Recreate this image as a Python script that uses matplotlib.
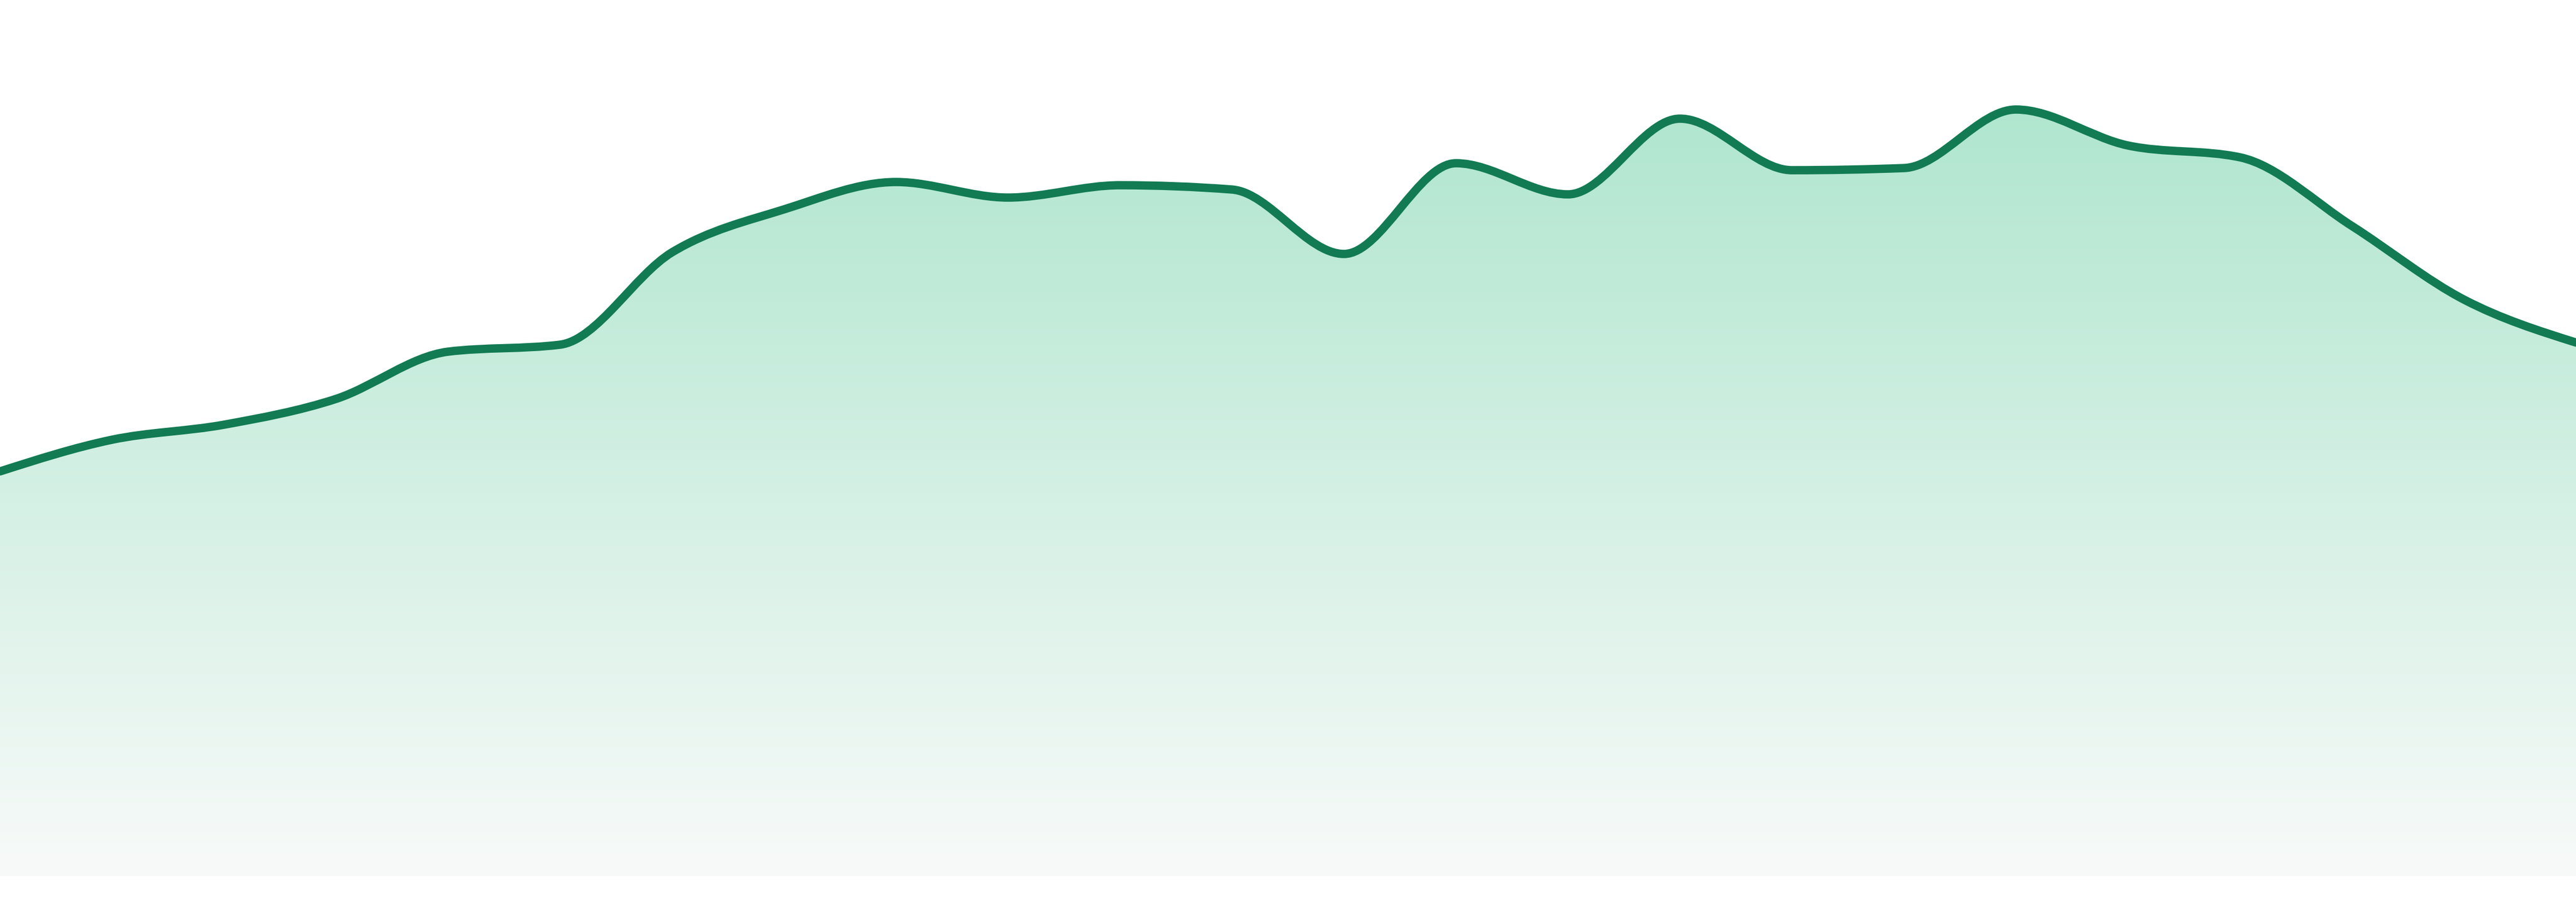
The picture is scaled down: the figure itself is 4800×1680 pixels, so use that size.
import numpy as np
import matplotlib
matplotlib.use("Agg")
import matplotlib.pyplot as plt
from matplotlib.path import Path
from matplotlib.patches import PathPatch

# ---- data (24 evenly spaced observations) ----
periods = list(range(24))
values = [75.4, 81.3, 84.1, 88.9, 97.7, 99.0, 116.2, 124.2, 129.3, 126.4,
          128.7, 127.9, 115.9, 132.8, 127.0, 141.1, 131.5, 131.9, 142.8, 136.1,
          133.9, 121.1, 107.4, 99.4]

LINE_COLOR = "#127b54"
TOP_RGB = np.array([176, 230, 207]) / 255.0
BOT_RGB = np.array([248, 250, 249]) / 255.0


def monotone_tangents(x, y):
    """Tangents as used by d3.curveMonotoneX."""
    x = np.asarray(x, float)
    y = np.asarray(y, float)
    n = len(x)
    t = np.zeros(n)
    for i in range(1, n - 1):
        h0 = x[i] - x[i - 1]
        h1 = x[i + 1] - x[i]
        s0 = (y[i] - y[i - 1]) / h0
        s1 = (y[i + 1] - y[i]) / h1
        p = (s0 * h1 + s1 * h0) / (h0 + h1)
        t[i] = (np.sign(s0) + np.sign(s1)) * min(abs(s0), abs(s1), 0.5 * abs(p))
    h = x[1] - x[0]
    t[0] = (3 * (y[1] - y[0]) / h - t[1]) / 2
    h = x[-1] - x[-2]
    t[-1] = (3 * (y[-1] - y[-2]) / h - t[-2]) / 2
    return t


def curve_path_parts(x, y):
    t = monotone_tangents(x, y)
    verts = [(x[0], y[0])]
    codes = [Path.MOVETO]
    for i in range(len(x) - 1):
        dx = (x[i + 1] - x[i]) / 3.0
        verts += [(x[i] + dx, y[i] + dx * t[i]),
                  (x[i + 1] - dx, y[i + 1] - dx * t[i + 1]),
                  (x[i + 1], y[i + 1])]
        codes += [Path.CURVE4] * 3
    return verts, codes


fig = plt.figure(figsize=(24, 8.4), dpi=200, facecolor="white")
ax = fig.add_axes([0, 0, 1, 1])
ax.set_xlim(periods[0], periods[-1])
ax.set_ylim(-4.8, 163.2)
ax.axis("off")

verts, codes = curve_path_parts(periods, values)

# gradient area
fverts = verts + [(periods[-1], 0), (periods[0], 0), (periods[0], 0)]
fcodes = codes + [Path.LINETO, Path.LINETO, Path.CLOSEPOLY]
fill_patch = PathPatch(Path(fverts, fcodes), facecolor="none", edgecolor="none")
ax.add_patch(fill_patch)

ymax = max(values)
n = 512
frac = np.linspace(1, 0, n)[:, None]  # top row = 1
grad = BOT_RGB[None, :] + (TOP_RGB - BOT_RGB)[None, :] * frac
grad = grad[:, None, :]
im = ax.imshow(grad, extent=[periods[0], periods[-1], 0, ymax], aspect="auto",
               interpolation="bilinear", zorder=1)
im.set_clip_path(fill_patch)

# line
line_patch = PathPatch(Path(verts, codes), facecolor="none", edgecolor=LINE_COLOR,
                       linewidth=5.6, capstyle="round", joinstyle="round", zorder=3)
ax.add_patch(line_patch)

ax.set_xlim(periods[0], periods[-1])
ax.set_ylim(-4.8, 163.2)

fig.savefig("out.png", dpi=200, facecolor="white")
